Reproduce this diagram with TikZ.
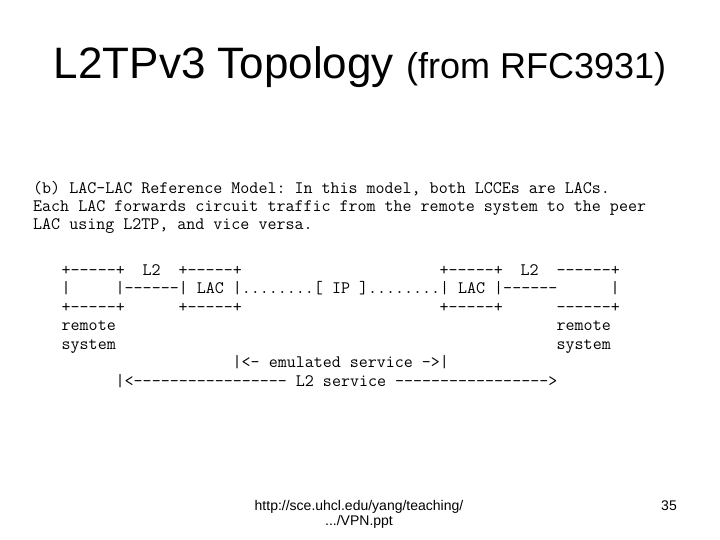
\documentclass[tikz,border=0pt]{standalone}
\usepackage{fontspec}
\setmainfont{Liberation Sans}
\setmonofont{Latin Modern Mono}
\tikzset{
  ttl/.style   = {font=\fontsize{44}{50}\selectfont, anchor=base, inner sep=0pt},
  prose/.style = {font=\ttfamily\fontsize{17.5}{20}\selectfont, anchor=base west, inner sep=0pt},
  art/.style   = {prose},
  foot/.style  = {font=\fontsize{14}{16}\selectfont, anchor=base, inner sep=0pt},
}

\begin{document}
\begin{tikzpicture}[x=1pt, y=-1pt]
\fill[white] (0,0) rectangle (720,540);
\useasboundingbox (0,0) rectangle (720,540);

\node[ttl] (title) at (360,78.5) {L2TPv3 Topology {\fontsize{36}{40}\selectfont(from RFC3931)}};

% caption text, one node per line
\begin{scope}[shift={(33,193.5)}, x=9pt, y=-18pt]
\node[prose] (capa) at (0,0) {(b) LAC-LAC Reference Model: In this model, both LCCEs are LACs.};
\node[prose] (capb) at (0,1) {Each LAC forwards circuit traffic from the remote system to the peer};
\node[prose] (capc) at (0,2) {LAC using L2TP, and vice versa.};
\end{scope}

% the ascii figure: x = column, y = row
\begin{scope}[shift={(61.5,275)}, x=9pt, y=-18.5pt]
\node[art] (remltop)  at (0,0)  {+-----+};
\node[art] (ltwol)    at (9,0)  {L2};
\node[art] (lacltop)  at (13,0) {+-----+};
\node[art] (lacrtop)  at (42,0) {+-----+};
\node[art] (ltwor)    at (51,0) {L2};
\node[art] (remrtop)  at (55,0) {------+};

\node[art] (remlside) at (0,1)  {|};
\node[art] (path)     at (6,1)  {|------| LAC |........[ IP ]........| LAC |------};
\node[art] (remrside) at (61,1) {|};

\node[art] (remlbot)  at (0,2)  {+-----+};
\node[art] (laclbot)  at (13,2) {+-----+};
\node[art] (lacrbot)  at (42,2) {+-----+};
\node[art] (remrbot)  at (55,2) {------+};

\node[art] (remla)    at (0,3)  {remote};
\node[art] (remra)    at (55,3) {remote};
\node[art] (remlb)    at (0,4)  {system};
\node[art] (remrb)    at (55,4) {system};

\node[art] (emul)     at (19,5) {|<- emulated service ->|};
\node[art] (ltwosvc)  at (6,6)  {|<----------------- L2 service ----------------->};
\end{scope}

\node[foot] (urla) at (359,510) {http://sce.uhcl.edu/yang/teaching/};
\node[foot] (urlb) at (359,525) {.../VPN.ppt};
\node[foot, anchor=base east] (pagenum) at (677,510) {35};
\end{tikzpicture}
\end{document}
